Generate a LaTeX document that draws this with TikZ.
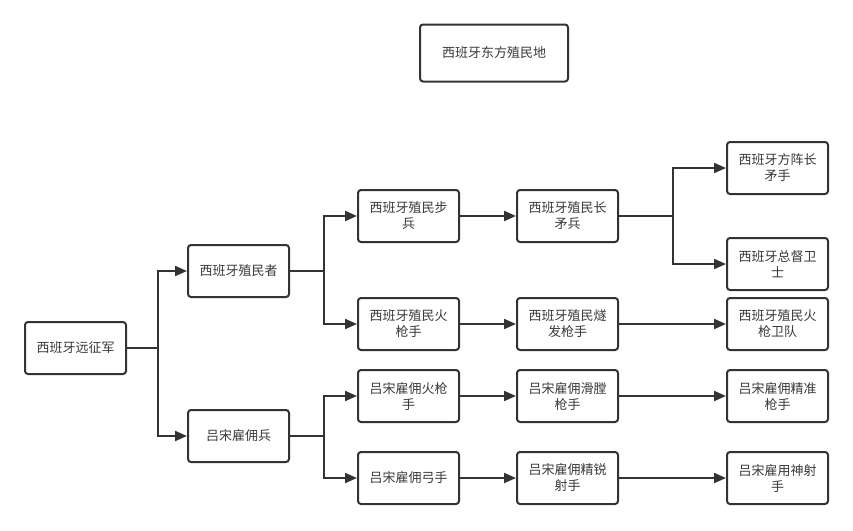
\documentclass[tikz,border=0pt]{standalone}
\usepackage{fontspec}
\setmainfont{Noto Sans CJK SC}
\usetikzlibrary{arrows.meta}
\definecolor{ln}{HTML}{333333}
\definecolor{tx}{HTML}{3A3A3A}
\begin{document}
\begin{tikzpicture}[x=1pt,y=-1pt,
  box/.style={draw=ln,line width=2pt,rounded corners=3pt,fill=white,
    minimum width=101pt,minimum height=52pt,inner sep=0pt,
    align=center,text=tx,
    font=\fontsize{13pt}{16pt}\selectfont},
  arr/.style={draw=ln,line width=2pt,-{Triangle[length=12pt,width=10pt]}}]
\useasboundingbox (0,0) rectangle (853,530);
\fill[white] (0,0) rectangle (853,530);
% title
\node[box,minimum width=148pt,minimum height=57pt] (title) at (494,53) {西班牙东方殖民地};
% column 1-2
\node[box] (root) at (75.5,348) {西班牙远征军};
\node[box] (col) at (238.5,271) {西班牙殖民者};
\node[box] (lz) at (238.5,436) {吕宋雇佣兵};
% column 3
\node[box] (c3a) at (408.5,216) {西班牙殖民步\\兵};
\node[box] (c3b) at (408.5,324) {西班牙殖民火\\枪手};
\node[box] (c3c) at (408.5,396) {吕宋雇佣火枪\\手};
\node[box] (c3d) at (408.5,478) {吕宋雇佣弓手};
% column 4
\node[box] (c4a) at (567.5,216) {西班牙殖民长\\矛兵};
\node[box] (c4b) at (567.5,324) {西班牙殖民燧\\发枪手};
\node[box] (c4c) at (567.5,396) {吕宋雇佣滑膛\\枪手};
\node[box] (c4d) at (567.5,478) {吕宋雇佣精锐\\射手};
% column 5
\node[box] (c5a) at (777.5,168) {西班牙方阵长\\矛手};
\node[box] (c5b) at (777.5,264) {西班牙总督卫\\士};
\node[box] (c5c) at (777.5,324) {西班牙殖民火\\枪卫队};
\node[box] (c5d) at (777.5,396) {吕宋雇佣精准\\枪手};
\node[box] (c5e) at (777.5,478) {吕宋雇用神射\\手};
% connectors
\draw[arr] (root.east) -- ++(31,0) |- (col.west);
\draw[arr] (root.east) -- ++(31,0) |- (lz.west);
\draw[arr] (col.east) -- ++(34,0) |- (c3a.west);
\draw[arr] (col.east) -- ++(34,0) |- (c3b.west);
\draw[arr] (lz.east) -- ++(34,0) |- (c3c.west);
\draw[arr] (lz.east) -- ++(34,0) |- (c3d.west);
\draw[arr] (c3a) -- (c4a);
\draw[arr] (c3b) -- (c4b);
\draw[arr] (c3c) -- (c4c);
\draw[arr] (c3d) -- (c4d);
\draw[arr] (c4a.east) -- ++(54,0) |- (c5a.west);
\draw[arr] (c4a.east) -- ++(54,0) |- (c5b.west);
\draw[arr] (c4b) -- (c5c);
\draw[arr] (c4c) -- (c5d);
\draw[arr] (c4d) -- (c5e);
\end{tikzpicture}
\end{document}
